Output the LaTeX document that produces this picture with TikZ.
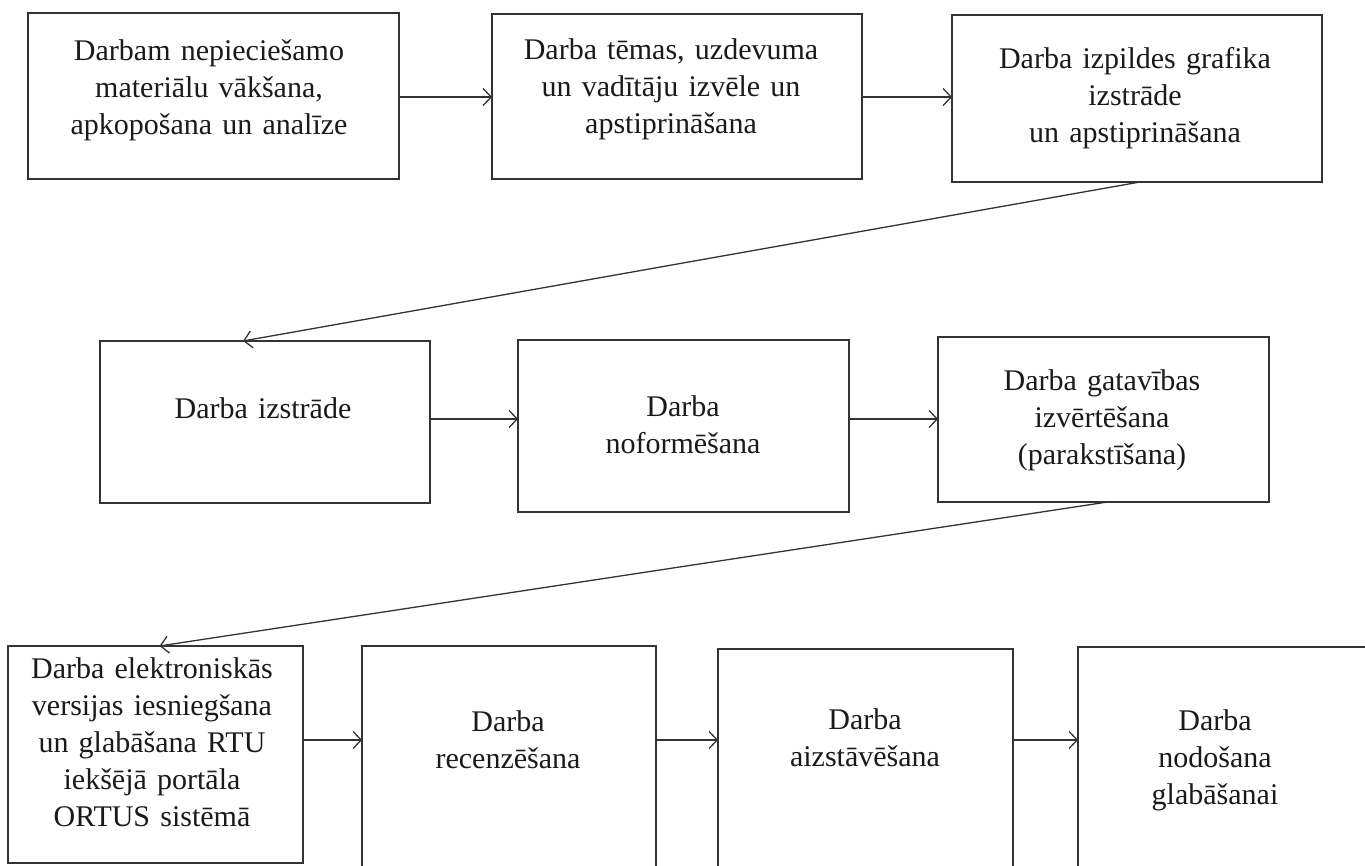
\documentclass[tikz,border=0pt]{standalone}
\usepackage{fontspec}
\setmainfont{Liberation Serif}
\usetikzlibrary{arrows.meta,calc}
\definecolor{boxline}{HTML}{333333}
\definecolor{ink}{HTML}{1A1A1A}
\newcommand{\boxfont}{\fontsize{30}{37}\selectfont\spaceskip=0.34em plus 0.1em\relax}
\begin{document}
\begin{tikzpicture}[x=1pt,y=-1pt,
  box/.style={draw=boxline,line width=1.7pt,inner sep=0pt,outer sep=0pt,anchor=north west,fill=white},
  txt/.style={align=center,font=\boxfont,inner sep=0pt,text=ink},
  conn/.style={draw=boxline,line width=1.3pt,-{Straight Barb[length=8pt,width=17pt,line width=1.3pt]}}]
\clip (0,0) rectangle (1365,866);
\fill[white] (0,0) rectangle (1365,866);
% row 1
\node[box,minimum width=371pt,minimum height=166pt] (A) at (28,13) {};
\node[box,minimum width=370pt,minimum height=165pt] (B) at (492,14) {};
\node[box,minimum width=370pt,minimum height=167pt] (C) at (952,15) {};
% row 2
\node[box,minimum width=330pt,minimum height=162pt] (D) at (100,341) {};
\node[box,minimum width=331pt,minimum height=172pt] (E) at (518,340) {};
\node[box,minimum width=331pt,minimum height=165pt] (F) at (938,337) {};
% row 3
\node[box,minimum width=295pt,minimum height=217pt] (G) at (8,646) {};
\node[box,minimum width=294pt,minimum height=240pt] (H) at (362,646) {};
\node[box,minimum width=295pt,minimum height=240pt] (I) at (718,649) {};
\node[box,minimum width=300pt,minimum height=240pt] (J) at (1078,647) {};
% texts
\node[txt] (tA) at (209,90) {Darbam nepiecie\v{s}amo\\materi\={a}lu v\={a}k\v{s}ana,\\apkopo\v{s}ana un anal\={\i}ze};
\node[txt] (tB) at (671,89) {Darba t\={e}mas, uzdevuma\\un vad\={\i}t\={a}ju izv\={e}le un\\apstiprin\={a}\v{s}ana};
\node[txt] (tC) at (1135,98) {Darba izpildes grafika\\izstr\={a}de\\un apstiprin\={a}\v{s}ana};
\node[txt] (tD) at (263,408) {Darba izstr\={a}de};
\node[txt] (tE) at (683,425) {Darba\\noform\={e}\v{s}ana};
\node[txt] (tF) at (1102,420) {Darba gatav\={\i}bas\\izv\={e}rt\={e}\v{s}ana\\(parakst\={\i}\v{s}ana)};
\node[txt] (tG) at (152,742) {Darba elektronisk\={a}s\\versijas iesnieg\v{s}ana\\un glab\={a}\v{s}ana RTU\\iek\v{s}\={e}j\={a} port\={a}la\\ORTUS sist\={e}m\={a}};
\node[txt] (tH) at (508,740) {Darba\\recenz\={e}\v{s}ana};
\node[txt] (tI) at (865,738) {Darba\\aizst\={a}v\={e}\v{s}ana};
\node[txt] (tJ) at (1215,760) {Darba\\nodo\v{s}ana\\glab\={a}\v{s}anai};
% connector levels
\coordinate (r1) at (0,97);
\coordinate (r2) at (0,419);
\coordinate (r3) at (0,740);
\draw[conn] (A.east |- r1) -- (B.west |- r1);
\draw[conn] (B.east |- r1) -- (C.west |- r1);
\draw[conn] ($(C.south)+(3,0)$) -- ($(D.north west)+(143,0)$);
\draw[conn] (D.east |- r2) -- (E.west |- r2);
\draw[conn] (E.east |- r2) -- (F.west |- r2);
\draw[conn] ($(F.south)+(4,0)$) -- ($(G.north)+(4,0)$);
\draw[conn] (G.east |- r3) -- (H.west |- r3);
\draw[conn] (H.east |- r3) -- (I.west |- r3);
\draw[conn] (I.east |- r3) -- (J.west |- r3);
\end{tikzpicture}
\end{document}
